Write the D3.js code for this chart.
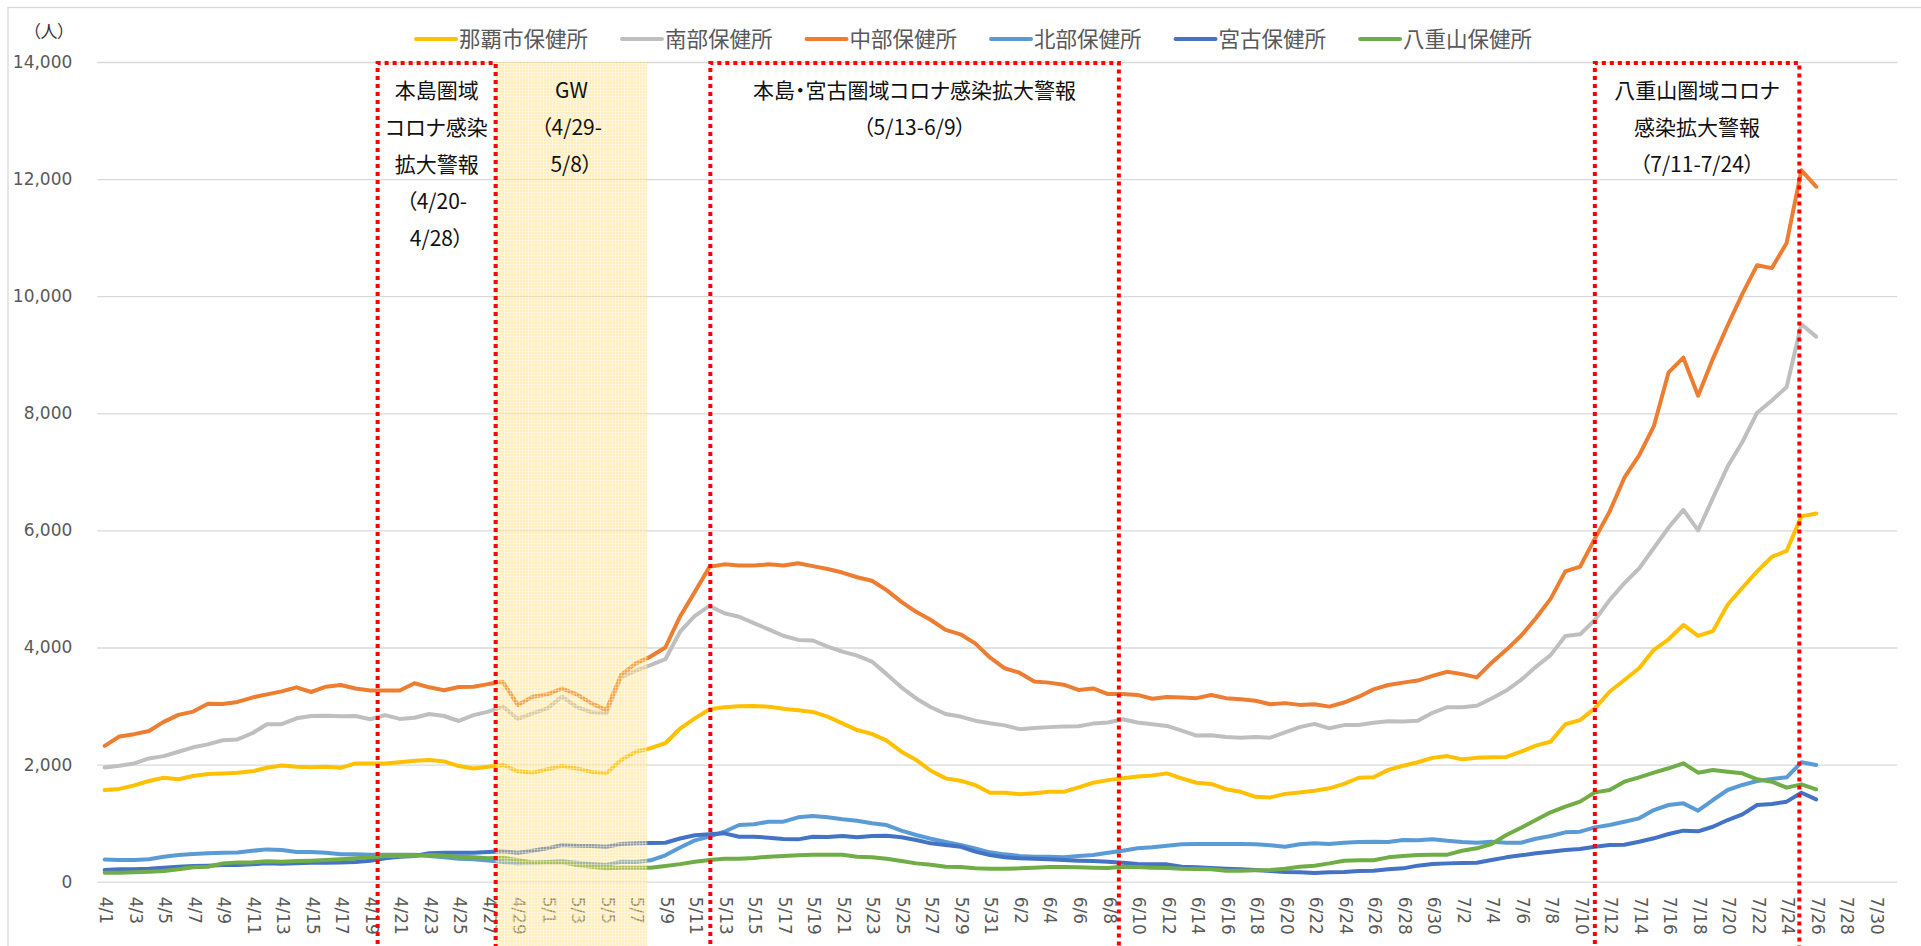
<!DOCTYPE html>
<html>
<head>
<meta charset="utf-8">
<script src="https://cdn.jsdelivr.net/npm/d3@7"></script>
<style>
  body { margin: 0; background: #fff; }
  .tick text { font-family: "DejaVu Sans", Verdana, sans-serif; font-size: 17px; fill: #595959; }
  .legend text { font-family: "Noto Sans CJK JP", sans-serif; font-size: 21.5px; fill: #595959; }
  .note text { font-family: "Noto Sans CJK JP", sans-serif; font-size: 21px; fill: #111; font-feature-settings: "palt"; }
</style>
</head>
<body>
<svg id="chart" width="1921" height="946"></svg>
<script>
// categories 4/1 - 7/31
var dates = [
  "4/1","4/2","4/3","4/4","4/5","4/6","4/7","4/8","4/9","4/10","4/11","4/12","4/13","4/14","4/15",
  "4/16","4/17","4/18","4/19","4/20","4/21","4/22","4/23","4/24","4/25","4/26","4/27","4/28","4/29","4/30",
  "5/1","5/2","5/3","5/4","5/5","5/6","5/7","5/8","5/9","5/10","5/11","5/12","5/13","5/14","5/15",
  "5/16","5/17","5/18","5/19","5/20","5/21","5/22","5/23","5/24","5/25","5/26","5/27","5/28","5/29","5/30","5/31",
  "6/1","6/2","6/3","6/4","6/5","6/6","6/7","6/8","6/9","6/10","6/11","6/12","6/13","6/14","6/15",
  "6/16","6/17","6/18","6/19","6/20","6/21","6/22","6/23","6/24","6/25","6/26","6/27","6/28","6/29","6/30",
  "7/1","7/2","7/3","7/4","7/5","7/6","7/7","7/8","7/9","7/10","7/11","7/12","7/13","7/14","7/15",
  "7/16","7/17","7/18","7/19","7/20","7/21","7/22","7/23","7/24","7/25","7/26","7/27","7/28","7/29","7/30","7/31"
];

var seriesNames = ["那覇市保健所", "南部保健所", "中部保健所", "北部保健所", "宮古保健所", "八重山保健所"];
var seriesColors = ["#FFC000", "#BFBFBF", "#ED7D31", "#5B9BD5", "#4472C4", "#70AD47"];

var naha = [1565,1585,1645,1720,1775,1750,1805,1840,1850,1860,1885,1945,1985,1965,1955,1965,1945,2020,2020,2020,
  2040,2065,2080,2055,1975,1935,1965,1995,1885,1860,1920,1975,1935,1875,1850,2080,2220,2280,2365,2615,
  2790,2945,2980,2995,3000,2990,2955,2930,2900,2820,2705,2590,2525,2410,2220,2080,1895,1765,1725,1650,
  1520,1520,1495,1510,1535,1535,1610,1690,1735,1765,1795,1815,1850,1765,1690,1670,1580,1535,1450,1440,
  1500,1525,1555,1595,1670,1775,1785,1910,1980,2040,2115,2145,2090,2115,2125,2130,2220,2325,2390,2690,
  2760,2960,3245,3445,3645,3960,4140,4385,4200,4280,4730,5020,5300,5550,5650,6240,6290];

var nanbu = [1950,1980,2020,2105,2145,2220,2295,2345,2415,2430,2535,2690,2690,2790,2830,2835,2825,2830,2775,2845,
  2780,2800,2865,2830,2745,2845,2905,2990,2780,2875,2960,3160,2980,2895,2875,3490,3605,3700,3800,4270,
  4540,4710,4585,4525,4415,4310,4200,4130,4120,4015,3930,3860,3760,3545,3320,3130,2980,2865,2820,2750,
  2705,2670,2605,2625,2640,2650,2655,2700,2720,2775,2720,2690,2660,2580,2495,2500,2470,2460,2470,2460,
  2550,2640,2695,2620,2675,2675,2715,2740,2735,2750,2885,2980,2980,3005,3130,3265,3445,3670,3870,4195,
  4225,4470,4810,5100,5350,5700,6050,6350,6000,6550,7090,7510,8010,8220,8450,9520,9310];

var chubu = [2320,2480,2520,2575,2730,2850,2905,3040,3035,3070,3145,3200,3250,3320,3240,3330,3360,3300,3265,3265,
  3265,3390,3320,3270,3325,3330,3375,3410,3020,3160,3200,3300,3200,3045,2930,3530,3730,3845,4000,4530,
  4950,5380,5420,5400,5400,5420,5400,5440,5390,5340,5280,5200,5140,4980,4780,4610,4470,4300,4225,4070,
  3830,3645,3570,3420,3400,3365,3275,3300,3205,3205,3190,3125,3155,3145,3135,3190,3135,3115,3090,3030,
  3050,3020,3030,2990,3060,3160,3285,3360,3400,3435,3515,3585,3545,3490,3740,3960,4200,4500,4830,5300,
  5380,5860,6320,6900,7280,7780,8700,8950,8300,8930,9500,10040,10530,10480,10910,12150,11870];

var hokubu = [380,372,372,385,425,455,473,485,495,500,528,552,540,507,507,495,467,467,462,462,
  462,462,440,416,393,382,360,336,313,325,336,348,325,302,285,340,336,365,450,585,
  705,769,854,968,980,1025,1025,1100,1122,1100,1066,1042,997,968,871,798,734,678,627,570,
  502,467,439,427,427,416,439,456,495,529,570,587,615,638,644,644,644,644,638,621,
  598,638,655,644,666,678,683,678,712,706,724,701,678,666,683,666,666,734,780,843,
  854,928,968,1025,1082,1224,1310,1338,1213,1395,1566,1652,1720,1754,1783,2039,1993];

var miyako = [200,211,211,222,240,256,268,274,285,285,296,313,308,313,325,325,330,336,359,399,
  427,439,485,495,495,495,507,518,495,530,570,627,615,610,598,644,655,660,665,738,
  792,809,826,769,769,752,729,723,769,763,780,758,780,786,758,712,655,627,598,513,
  456,416,399,393,382,370,359,353,341,325,302,296,296,256,245,234,222,211,200,182,
  165,160,148,160,165,182,188,211,228,274,302,313,319,325,370,416,450,485,513,541,
  558,598,627,632,683,741,815,872,860,939,1053,1150,1310,1327,1367,1520,1407];

var yaeyama = [154,154,160,171,182,211,245,256,313,330,330,348,341,353,359,370,382,399,416,439,
  439,444,456,444,427,416,399,410,370,330,330,330,285,256,228,240,240,240,268,300,
  341,370,393,393,405,427,439,450,462,462,462,427,416,393,353,313,290,256,251,228,
  222,222,228,240,251,251,245,240,234,256,251,240,234,222,217,211,188,188,194,200,
  222,256,274,313,359,365,365,416,439,456,462,462,529,570,644,798,922,1053,1185,1281,
  1367,1526,1566,1708,1783,1862,1937,2022,1862,1908,1879,1851,1749,1708,1606,1663,1578];

var yTicks = [0, 2000, 4000, 6000, 8000, 10000, 12000, 14000];
var xTickLabels = dates.filter(function(d, i) { return i % 2 === 0; });

// alert periods (text lines) and GW period
var periodText = [
  ["本島圏域", "コロナ感染", "拡大警報", "（4/20-", "4/28）"],
  ["本島・宮古圏域コロナ感染拡大警報", "（5/13-6/9）"],
  ["八重山圏域コロナ", "感染拡大警報", "（7/11-7/24）"]
];
var periodFrom = ["4/20", "5/12", "7/11"];
var periodTo = ["4/28", "6/9", "7/25"];
var gwText = ["GW", "（4/29-", "5/8）"];
var gwFrom = "4/28", gwTo = "5/8";

var allSeries = [naha, nanbu, chubu, hokubu, miyako, yaeyama];

var svg = d3.select('#chart');
var plotL = 97.3, plotR = 1897.3, plotT = 62, plotB = 881.7;

var x = d3.scaleBand().domain(dates).range([plotL, plotR]);
var bw = x.bandwidth();
var y = d3.scaleLinear().domain([0, 14000]).range([plotB, plotT]);

// chart frame
svg.append('rect')
  .attr('x', 8).attr('y', 7.5).attr('width', 1930).attr('height', 960)
  .attr('fill', 'none').attr('stroke', '#d9d9d9').attr('stroke-width', 1.3);

// gw pattern
var defs = svg.append('defs');
var pat = defs.append('pattern')
  .attr('id', 'gwpat').attr('patternUnits', 'userSpaceOnUse')
  .attr('width', 3).attr('height', 3);
pat.append('rect').attr('width', 3).attr('height', 3)
  .attr('fill', '#FFD966').attr('fill-opacity', 0.42);
pat.append('rect').attr('width', 3).attr('height', 1)
  .attr('fill', '#ffffff').attr('fill-opacity', 0.35);
pat.append('rect').attr('width', 1).attr('height', 3)
  .attr('fill', '#ffffff').attr('fill-opacity', 0.35);

// y axis with gridlines
var yAxis = svg.append('g')
  .attr('transform', 'translate(' + plotL + ',0)')
  .call(d3.axisLeft(y)
    .tickValues(yTicks)
    .tickSize(-(plotR - plotL))
    .tickPadding(25)
    .tickFormat(d3.format(',')));
yAxis.select('.domain').remove();
yAxis.selectAll('.tick line').attr('stroke', '#d9d9d9').attr('stroke-width', 1.3);

// x axis labels
var xAxis = svg.append('g')
  .attr('transform', 'translate(0,' + plotB + ')')
  .call(d3.axisBottom(x).tickValues(xTickLabels).tickSize(0));
xAxis.select('.domain').remove();
xAxis.selectAll('.tick text')
  .attr('x', 0).attr('y', 0).attr('dy', '0.35em')
  .attr('transform', 'translate(1.5,15) rotate(90)')
  .style('text-anchor', 'start');

// unit label
svg.append('text')
  .attr('x', 49).attr('y', 32).attr('dy', '0.35em')
  .attr('text-anchor', 'middle')
  .style('font-family', '"Noto Sans CJK JP", sans-serif')
  .style('font-size', '17px').style('fill', '#333')
  .style('font-feature-settings', '"palt"')
  .text('（人）');

// lines
var line = d3.line()
  .x(function(d, i) { return x(dates[i]) + bw / 2; })
  .y(function(d) { return y(d); });

svg.append('g').selectAll('path')
  .data(allSeries)
  .enter()
  .append('path')
    .attr('d', line)
    .attr('fill', 'none')
    .attr('stroke', function(d, i) { return seriesColors[i]; })
    .attr('stroke-width', 4)
    .attr('stroke-linejoin', 'round')
    .attr('stroke-linecap', 'round');

// GW shading on top of lines
var gwL = x(gwFrom), gwR = x(gwTo) + bw * 0.28;
svg.append('rect')
  .attr('x', gwL).attr('y', plotT)
  .attr('width', gwR - gwL).attr('height', 946 - plotT)
  .attr('fill', 'url(#gwpat)');

var lineGap = 36.8, firstLine = 91;
var gwNote = svg.append('g').attr('class', 'note');
gwNote.selectAll('text')
  .data(gwText)
  .enter()
  .append('text')
    .attr('x', (gwL + gwR) / 2)
    .attr('y', function(d, i) { return firstLine + i * lineGap; })
    .attr('dy', '0.35em')
    .attr('text-anchor', 'middle')
    .text(function(d) { return d; });

// alert boxes
var boxOffsets = [[0, 0], [0.55, 0.24], [0.5, 0.36]];
var boxes = svg.append('g').selectAll('g')
  .data(periodText)
  .enter()
  .append('g')
    .attr('class', 'note');

boxes.each(function(lines, k) {
  var g = d3.select(this);
  var bl = x(periodFrom[k]) + boxOffsets[k][0] * bw;
  var br = x(periodTo[k]) + boxOffsets[k][1] * bw;
  g.append('path')
    .attr('d', 'M' + bl + ',960V' + (plotT + 1) + 'H' + br + 'V960')
    .attr('fill', 'none')
    .attr('stroke', '#FF0000')
    .attr('stroke-width', 4)
    .attr('stroke-dasharray', '4,4');
  g.selectAll('text')
    .data(lines)
    .enter()
    .append('text')
      .attr('x', (bl + br) / 2)
      .attr('y', function(d, i) { return firstLine + i * lineGap; })
      .attr('dy', '0.35em')
      .attr('text-anchor', 'middle')
      .text(function(d) { return d; });
});

// legend
var legend = svg.append('g').attr('class', 'legend');
var lx = 416, ly = 39;
seriesNames.forEach(function(name, i) {
  legend.append('line')
    .attr('x1', lx).attr('x2', lx + 40)
    .attr('y1', ly).attr('y2', ly)
    .attr('stroke', seriesColors[i])
    .attr('stroke-width', 4)
    .attr('stroke-linecap', 'round');
  var t = legend.append('text')
    .attr('x', lx + 43).attr('y', ly).attr('dy', '0.35em')
    .text(name);
  lx = lx + 43 + t.node().getComputedTextLength() + 34;
});
</script>
</body>
</html>
